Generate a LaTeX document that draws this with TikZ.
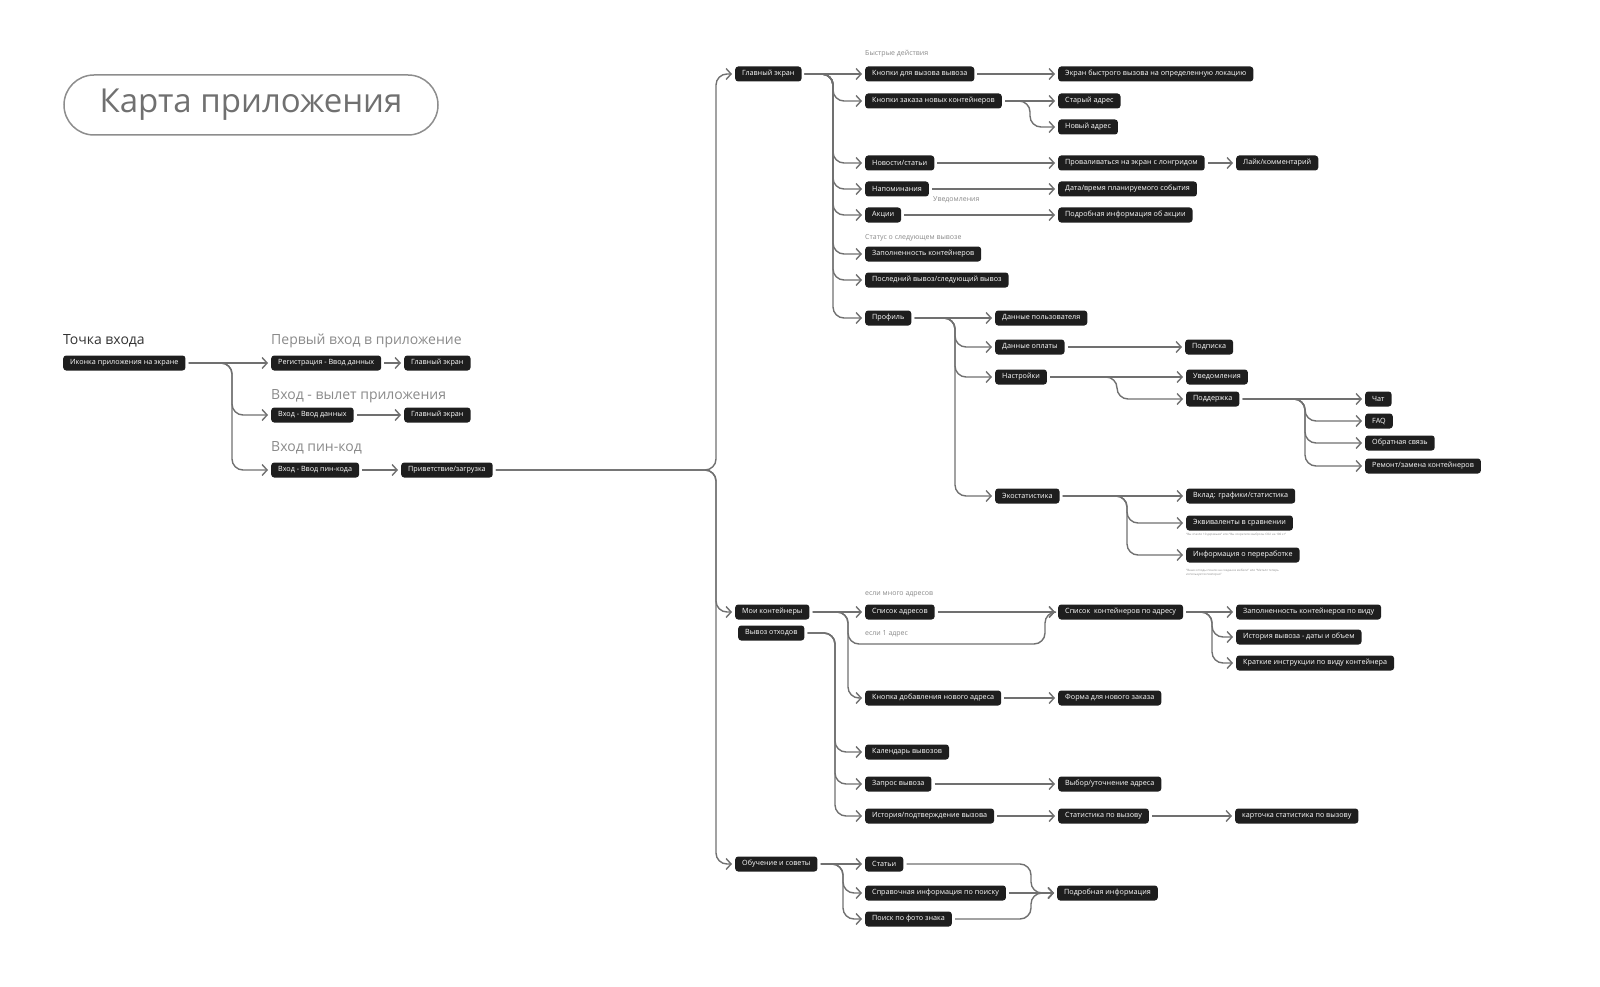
\documentclass[tikz,border=0pt]{standalone}
\usepackage{fontspec}
\setmainfont{Open Sans}
\usetikzlibrary{arrows.meta}
\definecolor{boxc}{HTML}{1E1E1E}
\definecolor{linec}{HTML}{707070}
\definecolor{lab}{HTML}{8A8A8A}
\newcommand\br[3]{\draw[conn] (#1.east) -- (#3 |- #1.east) |- (#2.west);}
\newcommand\st[2]{\draw[conn] (#1.east) -- (#2.west);}
\begin{document}
\begin{tikzpicture}[x=1pt,y=-1pt,
 box/.style={fill=boxc,text=white,rounded corners=3pt,inner xsep=7pt,inner ysep=0pt,minimum height=15pt,font=\fontsize{7.2}{8}\selectfont,anchor=west},
 conn/.style={draw=linec,line width=1.4pt,rounded corners=11pt,shorten >=3pt,shorten <=3pt,-{Straight Barb[length=5pt,width=11pt,line width=1.4pt]}},
 lbl/.style={text=lab,font=\fontsize{7}{8}\selectfont,anchor=west,inner sep=0pt},
 head/.style={text=lab,font=\fontsize{14}{15}\selectfont,anchor=west,inner sep=0pt},
 tiny/.style={text=lab,font=\fontsize{3}{3.5}\selectfont,anchor=north west,inner sep=0pt,align=left}]
\useasboundingbox (0,0) rectangle (1600,987);
% title
\node[draw=linec!80,line width=1.5pt,rounded corners=30pt,minimum width=374pt,minimum height=60pt,text=linec,font=\fontsize{33}{35}\selectfont] (title) at (251,105) {Карта приложения};
% entry
\node[head,text=black!80] (h0) at (63,341) {Точка входа};
\node[head] (h1) at (271,341) {Первый вход в приложение};
\node[head] (h2) at (271,396) {Вход - вылет приложения};
\node[head] (h3) at (271,448) {Вход пин-код};
\node[box] (e1) at (63,363) {Иконка приложения на экране};
\node[box] (r1) at (271,363) {Регистрация - Ввод данных};
\node[box] (g1) at (404,363) {Главный экран};
\node[box] (v1) at (271,415) {Вход - Ввод данных};
\node[box] (g2) at (404,415) {Главный экран};
\node[box] (p1) at (271,470) {Вход - Ввод пин-кода};
\node[box] (p2) at (401,470) {Приветствие/загрузка};
\coordinate (ve) at (232,0);
\st{e1}{r1}\br{e1}{v1}{ve}\br{e1}{p1}{ve}
\st{r1}{g1}\st{v1}{g2}\st{p1}{p2}
% main
\node[box] (gl) at (735,74) {Главный экран};
\node[box] (mk) at (735,612) {Мои контейнеры};
\node[box] (vo) at (738,633) {Вывоз отходов};
\node[box] (ob) at (735,864) {Обучение и советы};
\coordinate (vt) at (716,0);
\br{p2}{gl}{vt}\br{p2}{mk}{vt}\br{p2}{ob}{vt}
% главный экран
\node[lbl] at (865,54) {Быстрые действия};
\node[box] (k1) at (865,74) {Кнопки для вызова вывоза};
\node[box] (k1a) at (1058,74) {Экран быстрого вызова на определенную локацию};
\node[box] (k2) at (865,101) {Кнопки заказа новых контейнеров};
\node[box] (k2a) at (1058,101) {Старый адрес};
\node[box] (k2b) at (1058,127) {Новый адрес};
\node[box] (ns) at (865,163) {Новости/статьи};
\node[box] (nsa) at (1058,163) {Проваливаться на экран с лонгридом};
\node[box] (nsb) at (1236,163) {Лайк/комментарий};
\node[box] (nap) at (865,189) {Напоминания};
\node[box] (napa) at (1058,189) {Дата/время планируемого события};
\node[lbl] at (933,200) {Уведомления};
\node[box] (ak) at (865,215) {Акции};
\node[box] (aka) at (1058,215) {Подробная информация об акции};
\node[lbl] at (865,238) {Статус о следующем вывозе};
\node[box] (zk) at (865,254) {Заполненность контейнеров};
\node[box] (pv) at (865,280) {Последний вывоз/следующий вывоз};
\node[box] (pr) at (865,318) {Профиль};
\coordinate (vg) at (833,0);
\st{gl}{k1}
\foreach \c in {k2,ns,nap,ak,zk,pv,pr} {\br{gl}{\c}{vg}}
\st{k1}{k1a}
\coordinate (vk) at (1030,0);
\st{k2}{k2a}\br{k2}{k2b}{vk}
\st{ns}{nsa}\st{nsa}{nsb}\st{nap}{napa}\st{ak}{aka}
% профиль
\node[box] (du) at (995,318) {Данные пользователя};
\node[box] (do) at (995,347) {Данные оплаты};
\node[box] (sub) at (1185,347) {Подписка};
\node[box] (ns2) at (995,377) {Настройки};
\node[box] (uv) at (1186,377) {Уведомления};
\node[box] (pd) at (1186,399) {Поддержка};
\node[box] (chat) at (1365,399) {Чат};
\node[box] (faq) at (1365,421) {FAQ};
\node[box] (os) at (1365,443) {Обратная связь};
\node[box] (rz) at (1365,466) {Ремонт/замена контейнеров};
\node[box] (es) at (995,496) {Экостатистика};
\node[box] (vk1) at (1186,496) {Вклад: графики/статистика};
\node[box] (ek) at (1186,523) {Эквиваленты в сравнении};
\node[box] (ip) at (1186,555) {Информация о переработке};
\node[tiny] at (1186,533) {“Вы спасли 10 деревьев” или “Вы сократили выбросы CO2 на 100 кг”};
\node[tiny] at (1186,569) {“Ваши отходы пошли на создание мебели” или “Металл теперь\\используется повторно”};
\coordinate (vp) at (955,0);
\st{pr}{du}
\foreach \c in {do,ns2,es} {\br{pr}{\c}{vp}}
\st{do}{sub}
\coordinate (vn) at (1117,0);
\st{ns2}{uv}\br{ns2}{pd}{vn}
\coordinate (vs) at (1305,0);
\st{pd}{chat}
\foreach \c in {faq,os,rz} {\br{pd}{\c}{vs}}
\coordinate (ve2) at (1127,0);
\st{es}{vk1}
\foreach \c in {ek,ip} {\br{es}{\c}{ve2}}
% мои контейнеры
\node[lbl] at (865,594) {если много адресов};
\node[lbl] at (865,634) {если 1 адрес};
\node[box] (sa) at (865,612) {Список адресов};
\node[box] (sk) at (1058,612) {Список~ контейнеров по адресу};
\node[box] (sk1) at (1236,612) {Заполненность контейнеров по виду};
\node[box] (sk2) at (1236,637) {История вывоза - даты и объем};
\node[box] (sk3) at (1236,663) {Краткие инструкции по виду контейнера};
\node[box] (ka) at (865,698) {Кнопка добавления нового адреса};
\node[box] (fz) at (1058,698) {Форма для нового заказа};
\coordinate (vm) at (848,0);
\st{mk}{sa}\br{mk}{ka}{vm}
\coordinate (c1) at (848,644);
\coordinate (c2) at (1045,644);
\draw[conn] (mk.east) -- (vm |- mk.east) -- (c1) -- (c2) |- (sk.west);
\st{sa}{sk}\st{ka}{fz}
\coordinate (vl) at (1212,0);
\st{sk}{sk1}
\foreach \c in {sk2,sk3} {\br{sk}{\c}{vl}}
% вывоз отходов
\node[box] (kv) at (865,752) {Календарь вывозов};
\node[box] (zv) at (865,784) {Запрос вывоза};
\node[box] (zva) at (1058,784) {Выбор/уточнение адреса};
\node[box] (iv) at (865,816) {История/подтверждение вызова};
\node[box] (iva) at (1058,816) {Статистика по вызову};
\node[box] (ivb) at (1235,816) {карточка статистика по вызову};
\coordinate (vv) at (835,0);
\foreach \c in {kv,zv,iv} {\br{vo}{\c}{vv}}
\st{zv}{zva}\st{iv}{iva}\st{iva}{ivb}
% обучение
\node[box] (st) at (865,864) {Статьи};
\node[box] (si) at (865,893) {Справочная информация по поиску};
\node[box] (pf) at (865,919) {Поиск по фото знака};
\node[box] (pi) at (1057,893) {Подробная информация};
\coordinate (vo2) at (843,0);
\st{ob}{st}
\foreach \c in {si,pf} {\br{ob}{\c}{vo2}}
\coordinate (vq) at (1031,0);
\st{si}{pi}
\foreach \c in {st,pf} {\br{\c}{pi}{vq}}
\end{tikzpicture}
\end{document}
